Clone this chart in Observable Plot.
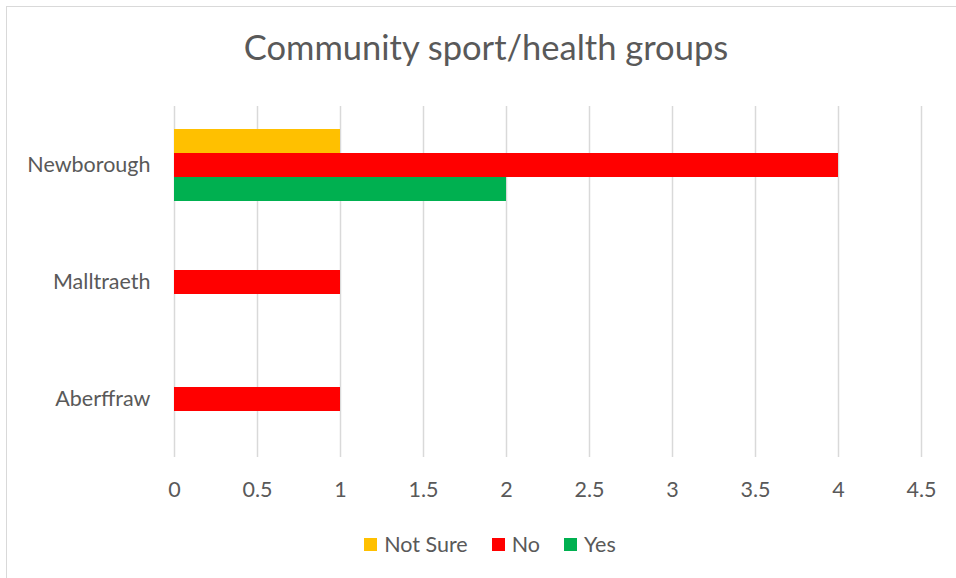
<!DOCTYPE html>
<html>
<head>
<meta charset="utf-8">
<script src="https://cdn.jsdelivr.net/npm/d3@7"></script>
<script src="https://cdn.jsdelivr.net/npm/@observablehq/plot@0.6"></script>
<style>
  html, body { margin: 0; padding: 0; background: #fff; }
  #wrap { position: relative; width: 956px; height: 578px; overflow: hidden; font-family: Lato, "Open Sans", sans-serif; color: #595959; }
  #frame { position: absolute; left: 6px; top: 6px; width: 960px; height: 580px; border-left: 1.5px solid #d9d9d9; border-top: 1.5px solid #d9d9d9; }
  #title { position: absolute; left: 0; width: 972px; top: 26px; text-align: center; font-size: 34.5px; line-height: 42px; }
  #chart { position: absolute; left: 0; top: 0; }
  #legend { position: absolute; left: 0; width: 980px; top: 531px; display: flex; justify-content: center; align-items: center; font-size: 21.5px; line-height: 26px; }
  .item { display: flex; align-items: center; margin: 0 12px; }
  .sw { width: 13px; height: 13px; margin-right: 7px; }
</style>
</head>
<body>
<div id="wrap">
  <div id="frame"></div>
  <div id="chart"></div>
  <div id="title">Community sport/health groups</div>
  <div id="legend"></div>
</div>
<script>
const categories = ["Newborough", "Malltraeth", "Aberffraw"];
const series = ["Not Sure", "No", "Yes"];
const seriesColors = ["#FFC000", "#FF0000", "#00B050"];
const notSureValues = [1, 0, 0];
const noValues = [4, 1, 1];
const yesValues = [2, 0, 0];
const xTicks = [0, 0.5, 1, 1.5, 2, 2.5, 3, 3.5, 4, 4.5];

const valuesBySeries = [notSureValues, noValues, yesValues];
const data = categories.flatMap((c, i) =>
  series.map((s, j) => ({ category: c, series: s, value: valuesBySeries[j][i] }))
);

const chart = Plot.plot({
  width: 956,
  height: 578,
  marginLeft: 174,
  marginRight: 35,
  marginTop: 105,
  marginBottom: 120,
  style: { fontFamily: "Lato, 'Open Sans', sans-serif", fontSize: "21.5px", color: "#595959", background: "transparent", overflow: "visible" },
  x: { domain: [0, 4.5] },
  fy: { domain: categories, padding: 0 },
  y: { domain: series, paddingInner: 0, paddingOuter: 0.9, axis: null },
  color: { domain: series, range: seriesColors },
  marks: [
    Plot.ruleX(xTicks, { x: d => d, stroke: "#d9d9d9", strokeWidth: 1.5 }),
    Plot.barX(data, { x: "value", y: "series", fy: "category", fill: "series" }),
    Plot.axisX({ ticks: xTicks, tickSize: 0, tickPadding: 24, tickFormat: d => String(d), label: null, anchor: "bottom", fill: "#595959" }),
    Plot.axisFy({ tickSize: 0, tickPadding: 24, label: null, anchor: "left", fill: "#595959" })
  ]
});
document.getElementById("chart").appendChild(chart);

const legend = document.getElementById("legend");
series.forEach((s, i) => {
  const item = document.createElement("div");
  item.className = "item";
  const sw = document.createElement("div");
  sw.className = "sw";
  sw.style.background = seriesColors[i];
  const t = document.createElement("span");
  t.textContent = s;
  item.appendChild(sw);
  item.appendChild(t);
  legend.appendChild(item);
});
</script>
</body>
</html>
